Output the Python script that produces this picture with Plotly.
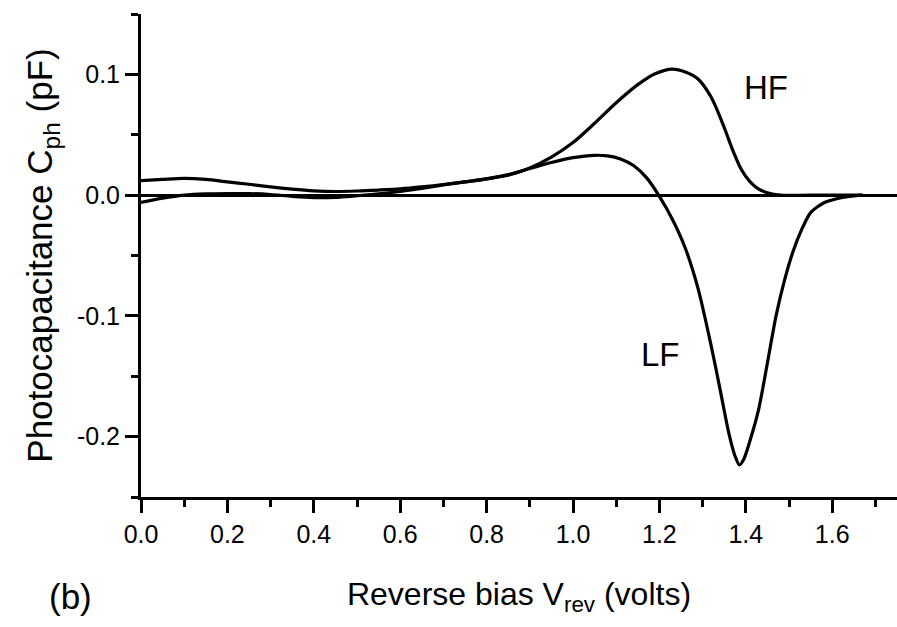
import plotly.graph_objects as go

# HF curve (reverse bias in volts, photocapacitance in pF)
hf_v = [0.00, 0.05, 0.10, 0.15, 0.20, 0.25, 0.30, 0.35, 0.40, 0.45, 0.50, 0.55, 0.60, 0.65, 0.70,
        0.75, 0.80, 0.85, 0.90, 0.95, 1.00, 1.05, 1.10, 1.15, 1.19, 1.23, 1.26, 1.29, 1.32, 1.35,
        1.37, 1.39, 1.41, 1.43, 1.45, 1.48, 1.55, 1.67]
hf_c = [0.012, 0.013, 0.0138, 0.013, 0.011, 0.009, 0.0068, 0.005, 0.0036, 0.003, 0.0034, 0.0042,
        0.0052, 0.0068, 0.0088, 0.011, 0.0135, 0.0165, 0.0225, 0.0315, 0.0435, 0.0595, 0.0765,
        0.0915, 0.1005, 0.1044, 0.102, 0.096, 0.081, 0.056, 0.037, 0.021, 0.011, 0.005, 0.002,
        0.0, 0.0, 0.0]

# LF curve
lf_v = [0.00, 0.05, 0.10, 0.15, 0.20, 0.25, 0.30, 0.35, 0.40, 0.45, 0.50, 0.55, 0.60, 0.65, 0.70,
        0.75, 0.80, 0.85, 0.90, 0.95, 1.00, 1.05, 1.08, 1.11, 1.14, 1.17, 1.20, 1.23, 1.26, 1.29,
        1.32, 1.34, 1.36, 1.375, 1.385, 1.395, 1.41, 1.43, 1.45, 1.47, 1.49, 1.51, 1.53, 1.55,
        1.58, 1.61, 1.64, 1.67]
lf_c = [-0.006, -0.0025, 0.0, 0.001, 0.0013, 0.0013, 0.0005, -0.001, -0.002, -0.0018, -0.0005,
        0.001, 0.003, 0.0055, 0.0085, 0.011, 0.0135, 0.017, 0.022, 0.027, 0.031, 0.033, 0.0325,
        0.030, 0.0245, 0.0145, -0.001, -0.02, -0.044, -0.078, -0.125, -0.16, -0.196, -0.216,
        -0.2235, -0.219, -0.203, -0.177, -0.139, -0.100, -0.070, -0.046, -0.028, -0.0145,
        -0.0065, -0.003, -0.001, 0.0]

x_tickvals = [0.0, 0.2, 0.4, 0.6, 0.8, 1.0, 1.2, 1.4, 1.6]
x_ticktext = ["0.0", "0.2", "0.4", "0.6", "0.8", "1.0", "1.2", "1.4", "1.6"]
y_tickvals = [-0.2, -0.1, 0.0, 0.1]
y_ticktext = ["-0.2", "-0.1", "0.0", "0.1"]

FONT = "Liberation Sans, Arial, sans-serif"

fig = go.Figure()
fig.add_trace(go.Scatter(x=hf_v, y=hf_c, mode="lines", name="HF",
                         line=dict(color="black", width=3.2, shape="spline", smoothing=0.8)))
fig.add_trace(go.Scatter(x=lf_v, y=lf_c, mode="lines", name="LF",
                         line=dict(color="black", width=3.2, shape="spline", smoothing=0.7)))

fig.update_layout(
    width=897, height=627,
    margin=dict(l=141, r=0, t=14, b=130),
    paper_bgcolor="white", plot_bgcolor="white",
    showlegend=False,
    font=dict(family=FONT, color="black"),
)
fig.update_xaxes(
    range=[0, 1.75], showgrid=False, zeroline=False,
    showline=True, linecolor="black", linewidth=3,
    ticks="outside", ticklen=13, tickwidth=2.5, tickcolor="black",
    tickvals=x_tickvals, ticktext=x_ticktext,
    tickfont=dict(size=25, family=FONT),
    minor=dict(ticks="outside", ticklen=7, tickwidth=2.5, tickcolor="black", dtick=0.1, tick0=0),
    title=dict(text="Reverse bias V<sub>rev</sub> (volts)", font=dict(size=32, family=FONT), standoff=36),
)
fig.update_yaxes(
    range=[-0.25, 0.15], showgrid=False,
    zeroline=True, zerolinecolor="black", zerolinewidth=2.5,
    showline=True, linecolor="black", linewidth=3,
    ticks="outside", ticklen=13, tickwidth=2.5, tickcolor="black",
    tickvals=y_tickvals, ticktext=y_ticktext,
    tickfont=dict(size=25, family=FONT),
    minor=dict(ticks="outside", ticklen=7, tickwidth=2.5, tickcolor="black", dtick=0.05, tick0=0),
    title=dict(text="Photocapacitance C<sub>ph</sub> (pF)", font=dict(size=35, family=FONT), standoff=14),
)

fig.add_annotation(x=1.447, y=0.0895, text="HF", showarrow=False,
                   font=dict(size=33, family=FONT, color="black"))
fig.add_annotation(x=1.2025, y=-0.1317, text="LF", showarrow=False,
                   font=dict(size=33, family=FONT, color="black"))
fig.add_annotation(xref="paper", yref="paper", x=-0.093, y=-0.205, text="(b)", showarrow=False,
                   xanchor="center", yanchor="middle",
                   font=dict(size=35, family=FONT, color="black"))

fig.write_html("out.html", config={"displayModeBar": False},
               post_script="document.body.style.margin='0';")
